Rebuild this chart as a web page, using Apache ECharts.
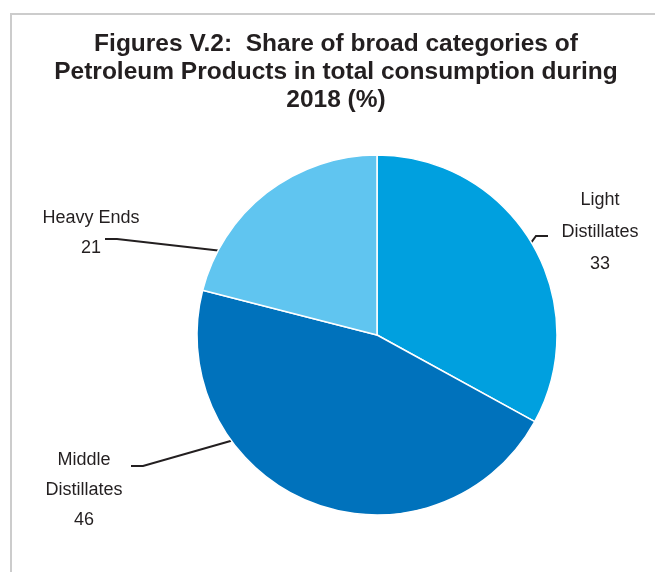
<!DOCTYPE html>
<html>
<head>
<meta charset="utf-8">
<script src="https://cdn.jsdelivr.net/npm/echarts@6/dist/echarts.min.js"></script>
<style>html,body{margin:0;padding:0;background:#fff;}#c{width:655px;height:572px;}</style>
</head>
<body>
<div id="c"></div>
<script>
var categories = ['Light\nDistillates', 'Middle\nDistillates', 'Heavy Ends'];
var values = [33, 46, 21];
var colors = ['#00a0df', '#0072bc', '#60c5f0'];
var titleText = 'Figures V.2:  Share of broad categories of\nPetroleum Products in total consumption during\n2018 (%)';

var CENTER = [377, 335];
var RADIUS = 180;
// label centres, angle (deg, math convention) where the leader meets the pie, and leader elbow points
var labelPos = [[600, 232], [84, 490], [91, 233]];
var labelLineHeights = [32, 30, 30];
var anchorAngle = [31, 216, 152];
var elbows = [[[536, 236], [548, 236]], [[143, 466], [131, 466]], [[117, 239], [105, 239]]];

var chart = echarts.init(document.getElementById('c'));
chart.setOption({
  backgroundColor: '#fff',
  animation: false,
  title: {
    text: titleText,
    left: 336,
    textAlign: 'center',
    top: 30,
    padding: 0,
    textStyle: { fontFamily: 'Liberation Sans, Arial, sans-serif', fontSize: 24.5, fontWeight: 'bold', color: '#231f20', lineHeight: 28 }
  },
  graphic: [{
    type: 'rect', shape: { x: 11, y: 14, width: 700, height: 620 },
    style: { fill: 'none', stroke: '#cccccc', lineWidth: 2 }, silent: true, z: -1
  }],
  series: [{
    type: 'pie',
    center: CENTER,
    radius: [0, RADIUS],
    startAngle: 90,
    clockwise: true,
    data: categories.map(function (c, i) {
      return { name: c, value: values[i], itemStyle: { color: colors[i] }, label: { lineHeight: labelLineHeights[i] } };
    }),
    itemStyle: { borderColor: '#fff', borderWidth: 1.5 },
    label: {
      show: true,
      formatter: '{b}\n{c}',
      fontFamily: 'Liberation Sans, Arial, sans-serif',
      fontSize: 18,
      lineHeight: 30,
      color: '#231f20',
      align: 'center'
    },
    labelLine: { show: true, length: 10, length2: 10, smooth: false, lineStyle: { color: '#231f20', width: 2 } },
    labelLayout: function (p) {
      var i = p.dataIndex;
      var pos = labelPos[i];
      var a = anchorAngle[i] * Math.PI / 180;
      var start = [CENTER[0] + RADIUS * Math.cos(a), CENTER[1] - RADIUS * Math.sin(a)];
      return {
        x: pos[0], y: pos[1], align: 'center', verticalAlign: 'middle',
        labelLinePoints: [start, elbows[i][0], elbows[i][1]]
      };
    }
  }]
});
</script>
</body>
</html>
